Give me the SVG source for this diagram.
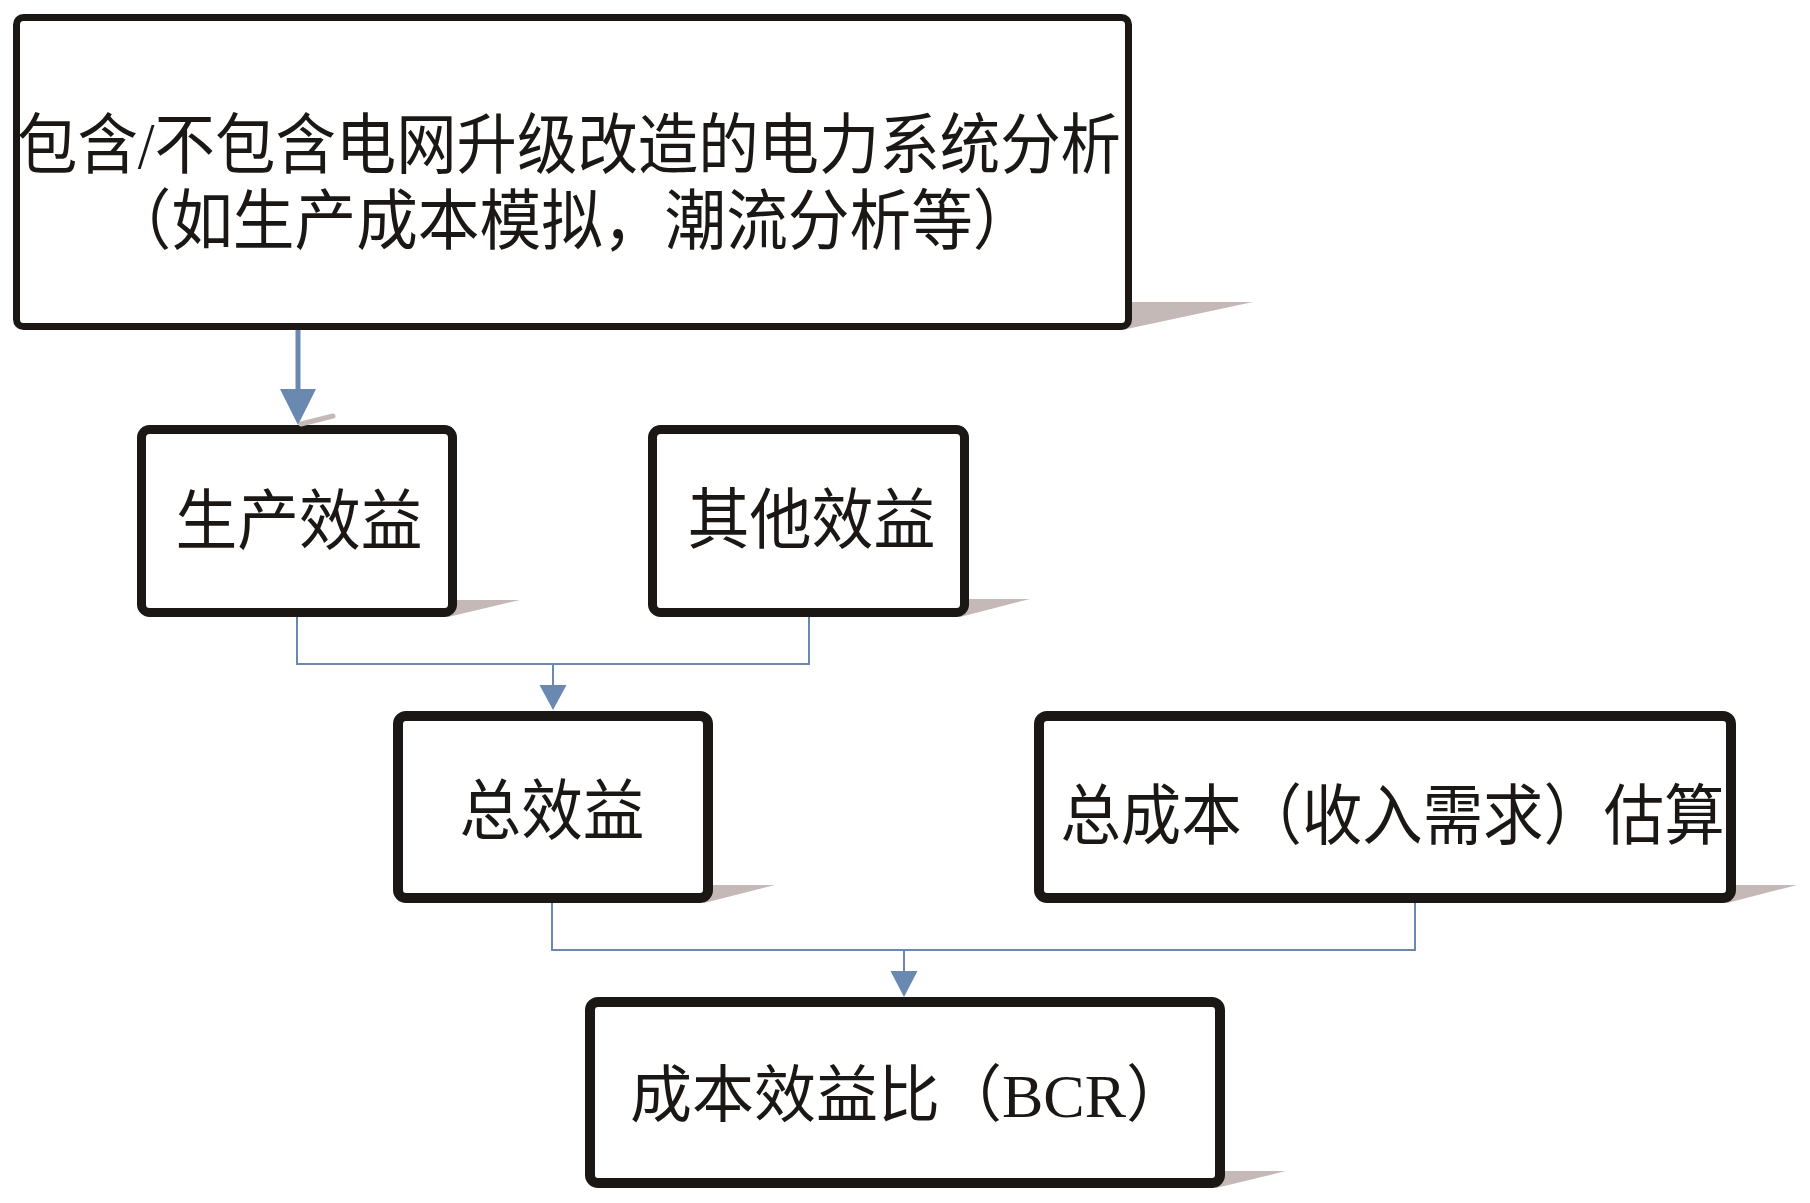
<svg xmlns="http://www.w3.org/2000/svg" width="1810" height="1203" viewBox="0 0 1810 1203">
  <style>
    .box { fill: #ffffff; stroke: #1a1714; }
    .shadow { fill: #c4b9b7; stroke: none; }
    .lbl { font-family: "Liberation Serif", "Noto Sans CJK SC", serif; font-size: 66px; fill: #1a1714; }
    .conn { fill: none; stroke: #6a89b1; stroke-width: 2; }
    .head { fill: #6a89b1; stroke: none; }
  </style>
  <rect x="0" y="0" width="1810" height="1203" fill="#ffffff"/>

  <g id="node-analysis">
    <polygon class="shadow" points="1120,302 1253,302 1122,330"/>
    <rect class="box" x="16.5" y="17.5" width="1112" height="309" rx="7" stroke-width="7"/>
    <text class="lbl" x="569" y="168" text-anchor="middle" textLength="1104" lengthAdjust="spacingAndGlyphs">包含/不包含电网升级改造的电力系统分析</text>
    <text class="lbl" x="572" y="244" text-anchor="middle" textLength="925" lengthAdjust="spacingAndGlyphs">（如生产成本模拟，潮流分析等）</text>
  </g>

  <g id="node-production">
    <polygon class="shadow" points="448,600 520,600 448,617"/>
    <rect class="box" x="141.5" y="429.5" width="311" height="183" rx="8" stroke-width="9"/>
    <text class="lbl" x="299" y="544" text-anchor="middle" textLength="247" lengthAdjust="spacingAndGlyphs">生产效益</text>
  </g>

  <g id="node-other">
    <polygon class="shadow" points="960,599 1030,599 960,617"/>
    <rect class="box" x="652.5" y="429.5" width="312" height="183" rx="8" stroke-width="9"/>
    <text class="lbl" x="811.5" y="543" text-anchor="middle" textLength="248" lengthAdjust="spacingAndGlyphs">其他效益</text>
  </g>

  <g id="node-total-benefit">
    <polygon class="shadow" points="704,885 775,885 704,903"/>
    <rect class="box" x="398" y="716" width="310" height="182" rx="8" stroke-width="10"/>
    <text class="lbl" x="552" y="834" text-anchor="middle" textLength="185" lengthAdjust="spacingAndGlyphs">总效益</text>
  </g>

  <g id="node-total-cost">
    <polygon class="shadow" points="1727,885 1797,885 1727,903"/>
    <rect class="box" x="1039" y="716" width="692" height="182" rx="8" stroke-width="10"/>
    <text class="lbl" x="1392.5" y="839" text-anchor="middle" textLength="664" lengthAdjust="spacingAndGlyphs">总成本（收入需求）估算</text>
  </g>

  <g id="node-bcr">
    <polygon class="shadow" points="1216,1171 1286,1171 1216,1188"/>
    <rect class="box" x="590" y="1002" width="630" height="181" rx="8" stroke-width="10"/>
    <text class="lbl" x="630" y="1117" style="font-size: 62px;">成本效益比（<tspan style="font-family: 'Liberation Serif', serif;">BCR</tspan>）</text>
  </g>

  <g id="connectors">
    <line x1="298" y1="330" x2="298" y2="391" stroke="#6a89b1" stroke-width="5"/>
    <polygon class="head" points="280,389 316,389 298,425"/>
    <line x1="301" y1="424" x2="333" y2="416" stroke="#c4b9b7" stroke-width="5" stroke-linecap="round"/>
    <path class="conn" d="M297,617 V664 H809 V617"/>
    <line class="conn" x1="553" y1="664" x2="553" y2="687"/>
    <polygon class="head" points="539.5,685 566.5,685 553,710"/>
    <path class="conn" d="M552,903 V950 H1415 V903"/>
    <line class="conn" x1="904" y1="950" x2="904" y2="973"/>
    <polygon class="head" points="890.5,971 917.5,971 904,997"/>
  </g>
</svg>
